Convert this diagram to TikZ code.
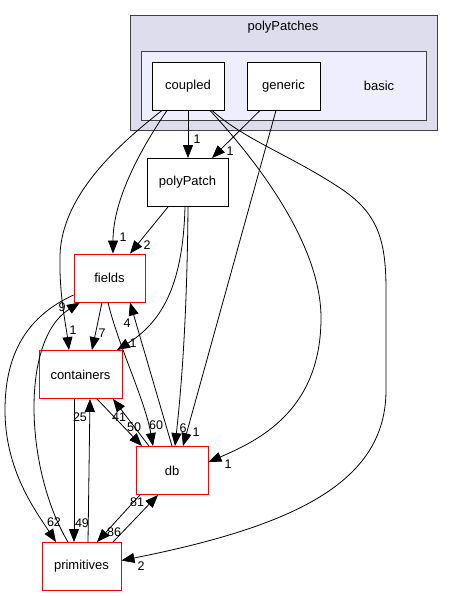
\documentclass[tikz,border=0pt]{standalone}
\usepackage{fontspec}
\setmainfont{Liberation Sans}
\usetikzlibrary{arrows.meta}

\definecolor{outerfill}{HTML}{DDDDEE}
\definecolor{innerfill}{HTML}{EEEEFF}
\definecolor{frame}{HTML}{404040}

\begin{document}
\begin{tikzpicture}[x=1pt, y=-1pt, every node/.style={font=\fontsize{13}{15}\selectfont}]
  % Define styles
  \tikzstyle{dirbox} = [rectangle, draw=black, fill=white, line width=0.9pt, minimum height=48pt, inner sep=0pt, text centered]
  \tikzstyle{reddir} = [dirbox, draw=red]
  \tikzstyle{dep} = [-{Triangle[length=13pt,width=10pt]}, line width=0.8pt]
  \tikzstyle{lbl} = [font=\fontsize{12.5}{14}\selectfont, inner sep=0pt]

  \useasboundingbox (0,0) rectangle (453,596);

  % Clusters
  \draw[frame, fill=outerfill, line width=1pt] (130,16) rectangle (437,131);
  \draw[frame, fill=innerfill, line width=1pt] (141,52) rectangle (426,121);
  \node (polyPatchesLabel) at (283,27) {polyPatches};
  \node (basicLabel) at (379,86) {basic};

  % Nodes
  \node[dirbox, minimum width=72pt] (coupled) at (188,86) {coupled};
  \node[dirbox, minimum width=73pt] (generic) at (283.5,86) {generic};
  \node[dirbox, minimum width=81pt] (polyPatch) at (187.5,182.5) {polyPatch};
  \node[reddir, minimum width=71pt] (fields) at (109.5,278) {fields};
  \node[reddir, minimum width=83pt] (containers) at (80.5,374.5) {containers};
  \node[reddir, minimum width=72pt] (db) at (172,470.5) {db};
  \node[reddir, minimum width=79pt] (primitives) at (81.5,566.5) {primitives};

  % Arrows
  \draw[dep] (coupled.south) -- (coupled.south |- polyPatch.north) node[lbl, at={(197,139)}] {1};
  \draw[dep] ([xshift=-23.5pt]generic.south) -- ([xshift=24.5pt]polyPatch.north) node[lbl, at={(230,151)}] {1};
  \draw[dep] ([xshift=-21pt]coupled.south) .. controls (140,150) and (113,200) .. ([xshift=3.5pt]fields.north) node[lbl, at={(123,237)}] {1};
  \draw[dep] ([xshift=-26pt]coupled.south) .. controls (118,145) and (62,195) .. (60,255) .. controls (59,295) and (66,325) .. ([xshift=-11.5pt]containers.north) node[lbl, at={(73,330)}] {1};
  \draw[dep] ([xshift=22pt]coupled.south) .. controls (265,170) and (322,250) .. (321,320) .. controls (320,410) and (260,440) .. ([yshift=8.5pt]db.east) node[lbl, at={(228,464)}] {1};
  \draw[dep] ([xshift=24pt]coupled.south) .. controls (245,140) and (290,155) .. (340,188) .. controls (378,213) and (386,240) .. (386,290) -- (386,390) .. controls (386,480) and (300,525) .. ([yshift=6pt]primitives.east) node[lbl, at={(141,566)}] {2};
  \draw[dep] ([xshift=-7.5pt]generic.south) -- ([xshift=11pt]db.north) node[lbl, at={(196,432)}] {1};

  \draw[dep] ([xshift=-19.5pt]polyPatch.south) -- ([xshift=20.5pt]fields.north) node[lbl, at={(147,245)}] {2};
  \draw[dep] ([xshift=-2.5pt]polyPatch.south) .. controls (183,280) and (165,320) .. ([xshift=36.5pt]containers.north) node[lbl, at={(133,343)}] {1};
  \draw[dep] ([xshift=0.5pt]polyPatch.south) .. controls (187,330) and (180,400) .. ([xshift=3pt]db.north) node[lbl, at={(183,428)}] {6};

  \draw[dep] ([xshift=-7.5pt]fields.south) -- ([xshift=11.5pt]containers.north) node[lbl, at={(102,333)}] {7};
  \draw[dep] ([xshift=-1.5pt]fields.south) .. controls (118,345) and (145,400) .. ([xshift=-19pt]db.north) node[lbl, at={(156,425)}] {60};
  \draw[dep] ([yshift=-17pt]fields.west) .. controls (30,315) and (5,350) .. (5,410) .. controls (5,470) and (35,510) .. ([xshift=-25.5pt]primitives.north) node[lbl, at={(54,522)}] {62};

  \draw[dep] (db.north) -- ([xshift=20.5pt]fields.south) node[lbl, at={(127,323)}] {4};
  \draw[dep] ([xshift=-23pt]db.north) -- ([xshift=32.5pt]containers.south) node[lbl, at={(119,417)}] {41};
  \draw[dep] ([xshift=-32pt]db.south) -- ([xshift=15.5pt]primitives.north) node[lbl, at={(114,532)}] {86};

  \draw[dep] ([xshift=16.5pt]containers.south) -- ([xshift=-30pt]db.north) node[lbl, at={(134,427)}] {50};
  \draw[dep] ([xshift=-6.5pt]containers.south) -- ([xshift=-7.5pt]primitives.north) node[lbl, at={(82,523)}] {49};

  \draw[dep] ([xshift=6.5pt]primitives.north) -- ([xshift=9.5pt]containers.south) node[lbl, at={(80,417)}] {25};
  \draw[dep] ([xshift=-13.5pt]primitives.north) .. controls (25,470) and (20,340) .. ([xshift=-29.5pt]fields.south) node[lbl, at={(62,307)}] {9};
  \draw[dep] ([xshift=31.5pt]primitives.north) -- ([xshift=-14pt]db.south) node[lbl, at={(137,502)}] {81};
\end{tikzpicture}
\end{document}
